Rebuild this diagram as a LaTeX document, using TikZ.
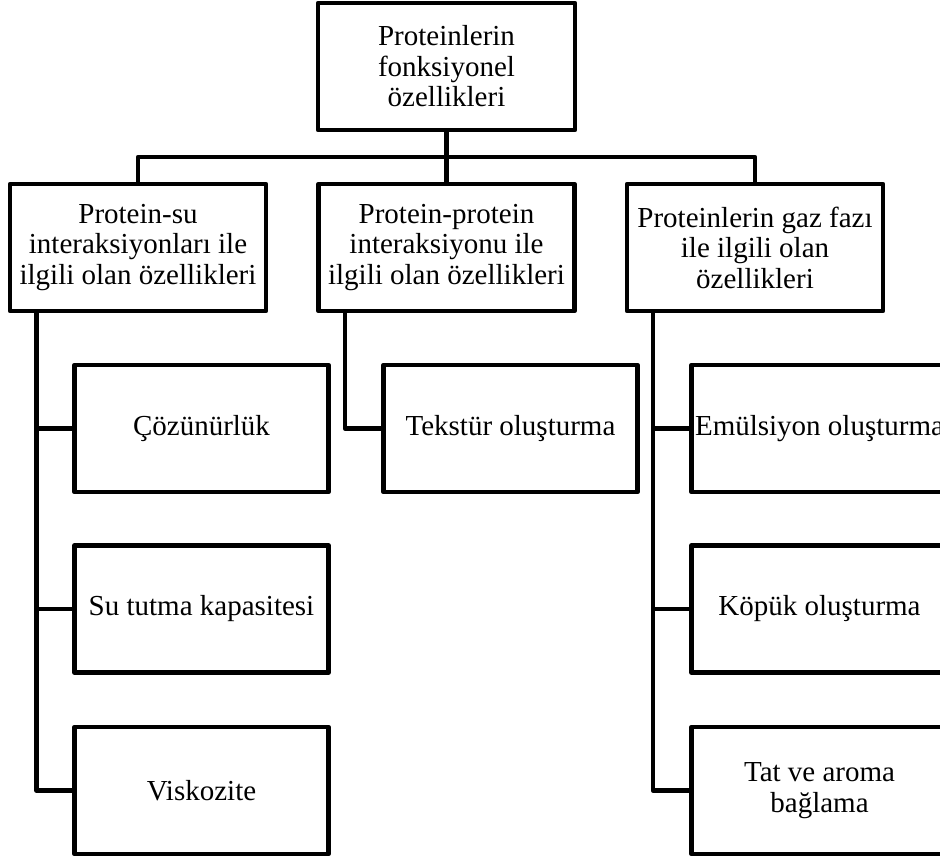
\documentclass[tikz,border=0pt]{standalone}
\usepackage{fontspec}
\setmainfont{Liberation Serif}
\usepackage{tikz}
\usetikzlibrary{positioning}

\begin{document}
\begin{tikzpicture}[x=1pt, y=-1pt, line width=4.5pt, line join=round,
		kutu/.style={draw, outer sep=0pt, inner sep=1pt, minimum width=256pt, minimum height=127pt, align=center},
		font=\fontsize{29}{30.5}\selectfont]
		\useasboundingbox (0,0) rectangle (940,856);
		
		% Ana kutu
		\node[kutu, minimum width=257pt] (top) at (446.5,66.5) {Proteinlerin\\fonksiyonel\\özellikleri};
		
		% Grup kutulari
		\node[kutu] (pw) at (138,247.5) {Protein-su\\interaksiyonları ile\\ilgili olan özellikleri};
		\node[kutu] (pp) at (446.5,247.5) {Protein-protein\\interaksiyonu ile\\ilgili olan özellikleri};
		\node[kutu] (pg) at (755,247.5) {Proteinlerin gaz fazı\\ile ilgili olan\\özellikleri};
		
		% Protein-su
		\node[kutu, minimum width=254pt] (coz) at (201.5,428.5) {Çözünürlük};
		\node[kutu, minimum width=254pt] (sutut) at (201.5,609) {Su tutma kapasitesi};
		\node[kutu, minimum width=254pt] (visk) at (201.5,790.5) {Viskozite};
		
		% Protein-protein
		\node[kutu, minimum width=254pt] (tekst) at (510.5,428.5) {Tekstür oluşturma};
		
		% Gaz fazi
		\node[kutu] (emul) at (819.5,428.5) {Emülsiyon oluşturma};
		\node[kutu] (kopuk) at (819.5,609) {Köpük oluşturma};
		\node[kutu] (tat) at (819.5,790.5) {Tat ve aroma\\bağlama};
		
		% Baglantilar
		\draw (top.south) -- (pp.north);
		\draw (pw.north) -- ++(0,-27) -| (pg.north);
		
		\draw ([xshift=26.5pt]pw.south west) |- (coz.west);
		\draw ([xshift=26.5pt]pw.south west) |- (sutut.west);
		\draw ([xshift=26.5pt]pw.south west) |- (visk.west);
		
		\draw ([xshift=26.5pt]pp.south west) |- (tekst.west);
		
		\draw ([xshift=26pt]pg.south west) |- (emul.west);
		\draw ([xshift=26pt]pg.south west) |- (kopuk.west);
		\draw ([xshift=26pt]pg.south west) |- (tat.west);
	\end{tikzpicture}
\end{document}
